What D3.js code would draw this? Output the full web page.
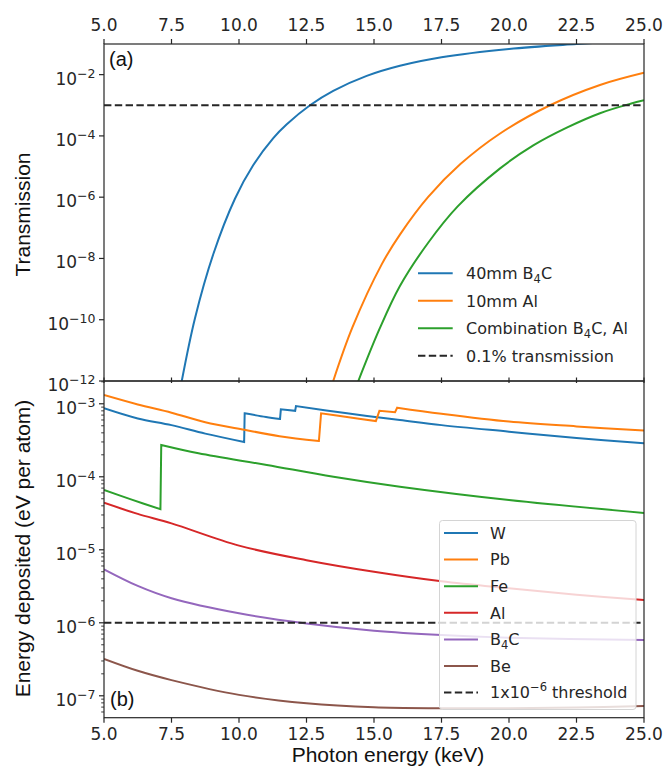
<!DOCTYPE html>
<html>
<head>
<meta charset="utf-8">
<script src="https://cdn.jsdelivr.net/npm/d3@7"></script>
<style>
    body { margin: 0; background: #fff; }
    .tick-text { font-family: "DejaVu Sans", sans-serif; font-size: 17px; fill: #262626; }
    .legend-text { font-family: "DejaVu Sans", sans-serif; font-size: 16px; fill: #262626; }
    .axis-label { font-family: "Liberation Sans", Arial, sans-serif; font-size: 21px; fill: #111; }
    .panel-label { font-family: "Liberation Sans", Arial, sans-serif; font-size: 20px; fill: #111; }
    .spine, .tick { stroke: #262626; stroke-width: 1.2; fill: none; }
    .curve { fill: none; stroke-width: 2; }
    .threshold { fill: none; stroke: #262626; stroke-width: 2; stroke-dasharray: 7.4, 3.4; }
</style>
</head>
<body>
<div id="plot"></div>
<script>
// tick values
var energyTicks = [5, 7.5, 10, 12.5, 15, 17.5, 20, 22.5, 25];
var transExponents = [-12, -10, -8, -6, -4, -2];
var depositExponents = [-7, -6, -5, -4, -3];

// (a) transmission vs photon energy (keV)
var transB4C = [[7.80, 4.0e-13], [7.88, 1.0e-12], [8.37, 1.12e-10], [9.05, 1.4e-8], [9.85, 8.9e-7],
    [10.53, 1.12e-5], [11.27, 8.5e-5], [11.77, 2.4e-4], [12.63, 1.0e-3], [13.49, 2.95e-3],
    [14.73, 9.1e-3], [15.96, 1.95e-2], [17.5, 3.7e-2], [20.0, 6.9e-2], [22.5, 1.0e-1], [25.0, 1.35e-1]];
var transAl = [[13.40, 5.7e-13], [13.49, 1.0e-12], [14.20, 5.6e-11], [15.28, 6.3e-9], [15.96, 6.0e-8],
    [17.0, 1.0e-6], [18.2, 1.2e-5], [19.67, 1.2e-4], [21.52, 1.0e-3], [23.37, 4.6e-3], [25.0, 1.15e-2]];
var transCombo = [[14.33, 5.0e-13], [14.42, 1.0e-12], [15.2, 4.9e-11], [15.96, 1.26e-9], [17.0, 3.2e-8],
    [18.1, 5.0e-7], [19.67, 8.7e-6], [20.9, 4.9e-5], [22.14, 1.86e-4], [23.37, 5.5e-4], [24.5, 1.12e-3], [25.0, 1.45e-3]];
var transThreshold = 1e-3;

// (b) energy deposited (eV per atom) vs photon energy (keV)
var depW = [[5, 8.7e-4], [6.25, 6.3e-4], [7.5, 5.1e-4], [8.75, 3.9e-4], [10.19, 3.0e-4],
    [10.21, 7.4e-4], [11.0, 6.6e-4], [11.52, 6.2e-4], [11.55, 8.4e-4], [12.08, 8.0e-4],
    [12.11, 9.3e-4], [14.0, 7.4e-4], [15.96, 6.0e-4], [17.5, 5.1e-4], [20, 4.15e-4], [22.5, 3.4e-4], [25, 2.88e-4]];
var depPb = [[5, 1.32e-3], [6.25, 9.8e-4], [7.5, 7.55e-4], [8.75, 5.6e-4], [10.2, 4.4e-4],
    [11.5, 3.6e-4], [12.96, 3.1e-4], [13.04, 7.4e-4], [14.0, 6.6e-4], [15.07, 5.8e-4],
    [15.2, 8.0e-4], [15.78, 7.65e-4], [15.86, 8.85e-4], [17.5, 7.3e-4], [20, 5.7e-4], [22.5, 4.9e-4], [25, 4.3e-4]];
var depFe = [[5, 6.6e-5], [6, 4.9e-5], [7.09, 3.6e-5], [7.12, 2.73e-4], [8.5, 2.1e-4],
    [11.03, 1.45e-4], [13.5, 1.0e-4], [15.96, 7.3e-5], [20, 4.8e-5], [25, 3.2e-5]];
var depAl = [[5, 4.4e-5], [6.25, 3.1e-5], [7.5, 2.3e-5], [10, 1.14e-5], [12.5, 7.2e-6], [15, 5.0e-6],
    [17.5, 3.7e-6], [20, 2.97e-6], [22.5, 2.43e-6], [25, 2.05e-6]];
var depB4C = [[5, 5.4e-6], [6.25, 3.2e-6], [7.5, 2.17e-6], [10, 1.35e-6], [12.5, 9.8e-7], [15, 7.8e-7],
    [17.5, 6.8e-7], [20, 6.25e-7], [25, 5.8e-7]];
var depBe = [[5, 3.2e-7], [6.25, 2.2e-7], [7.5, 1.64e-7], [10, 1.03e-7], [12.5, 7.9e-8], [15, 6.95e-8],
    [17.5, 6.75e-8], [20, 6.75e-8], [22.5, 6.9e-8], [25, 7.25e-8]];
var depThreshold = 1e-6;

var transSeries = [
    { label: '40mm B_4C', color: '#1f77b4', values: transB4C },
    { label: '10mm Al', color: '#ff7f0e', values: transAl },
    { label: 'Combination B_4C, Al', color: '#2ca02c', values: transCombo }
];
var depSeries = [
    { label: 'W', color: '#1f77b4', values: depW },
    { label: 'Pb', color: '#ff7f0e', values: depPb },
    { label: 'Fe', color: '#2ca02c', values: depFe },
    { label: 'Al', color: '#d62728', values: depAl },
    { label: 'B_4C', color: '#9467bd', values: depB4C },
    { label: 'Be', color: '#8c564b', values: depBe }
];

var W = 667, H = 769;
var left = 104, right = 644;
var topA = 44, bottomA = 381, topB = 381, bottomB = 717.7;

var svg = d3.select('#plot').append('svg')
    .attr('width', W)
    .attr('height', H);

var x = d3.scaleLinear().domain([5, 25]).range([left, right]);
var yA = d3.scaleLog().domain([1e-12, 1e-1]).range([bottomA, topA]);
var yB = d3.scaleLog().domain([Math.pow(10, -7.30), Math.pow(10, -2.688)]).range([bottomB, topB]);

// text with _4 subscripts and ^{..} superscripts
function richText(sel, str, size, subSize, subDy, supDy) {
    var parts = str.split(/(_\d|\^\{[^}]*\})/).filter(function (p) { return p.length; });
    var shift = 0;
    parts.forEach(function (p) {
        var t = sel.append('tspan');
        if (p[0] === '_') {
            t.attr('dy', subDy - shift).style('font-size', subSize + 'px').text(p.slice(1));
            shift = subDy;
        } else if (p[0] === '^') {
            t.attr('dy', supDy - shift).style('font-size', subSize + 'px').text(p.slice(2, -1));
            shift = supDy;
        } else {
            t.attr('dy', -shift).style('font-size', size + 'px').text(p);
            shift = 0;
        }
    });
}

// curve through points, split at absorption edges so the jumps stay sharp
function edgePath(points, yScale) {
    var line = d3.line()
        .x(function (d) { return x(d[0]); })
        .y(function (d) { return yScale(d[1]); })
        .curve(d3.curveCatmullRom.alpha(0.5));
    var segs = [[points[0]]];
    for (var i = 1; i < points.length; i++) {
        if (points[i][0] - points[i - 1][0] < 0.2) segs.push([points[i]]);
        else segs[segs.length - 1].push(points[i]);
    }
    return segs.map(function (s, i) {
        var p = line(s).replace(/Z$/, '');
        return i ? 'L' + p.slice(1) : p;
    }).join('');
}

var defs = svg.append('defs');
defs.append('clipPath').attr('id', 'clipA').append('rect')
    .attr('x', left).attr('y', topA).attr('width', right - left).attr('height', bottomA - topA);
defs.append('clipPath').attr('id', 'clipB').append('rect')
    .attr('x', left).attr('y', topB).attr('width', right - left).attr('height', bottomB - topB);

// ---- panel (a)
var gA = svg.append('g').attr('clip-path', 'url(#clipA)');
gA.selectAll('path.curve')
    .data(transSeries)
    .enter()
    .append('path')
    .attr('class', 'curve')
    .attr('stroke', function (d) { return d.color; })
    .attr('d', function (d) { return edgePath(d.values, yA); });
gA.append('line')
    .attr('class', 'threshold')
    .attr('x1', left).attr('x2', right)
    .attr('y1', yA(transThreshold)).attr('y2', yA(transThreshold));

// ---- panel (b)
var gB = svg.append('g').attr('clip-path', 'url(#clipB)');
gB.selectAll('path.curve')
    .data(depSeries)
    .enter()
    .append('path')
    .attr('class', 'curve')
    .attr('stroke', function (d) { return d.color; })
    .attr('d', function (d) { return edgePath(d.values, yB); });
gB.append('line')
    .attr('class', 'threshold')
    .attr('x1', left).attr('x2', right)
    .attr('y1', yB(depThreshold)).attr('y2', yB(depThreshold));

// ---- axes
var axes = svg.append('g').attr('class', 'axes');

// x ticks: top of (a), shared boundary, bottom of (b)
energyTicks.forEach(function (v) {
    axes.append('line').attr('class', 'tick')
        .attr('x1', x(v)).attr('x2', x(v)).attr('y1', topA - 5).attr('y2', topA);
    axes.append('line').attr('class', 'tick')
        .attr('x1', x(v)).attr('x2', x(v)).attr('y1', bottomA - 3.5).attr('y2', bottomA + 2);
    axes.append('line').attr('class', 'tick')
        .attr('x1', x(v)).attr('x2', x(v)).attr('y1', bottomB).attr('y2', bottomB + 5);
    axes.append('text').attr('class', 'tick-text')
        .attr('x', x(v)).attr('y', 31).attr('text-anchor', 'middle')
        .text(d3.format('.1f')(v));
    axes.append('text').attr('class', 'tick-text')
        .attr('x', x(v)).attr('y', 740).attr('text-anchor', 'middle')
        .text(d3.format('.1f')(v));
});

function yTickLabel(yPos, e) {
    var t = axes.append('text').attr('class', 'tick-text')
        .attr('x', 95.5).attr('y', yPos + 10).attr('text-anchor', 'end');
    richText(t, '10^{\u2212' + (-e) + '}', 17, 12.5, 0, -7);
}

transExponents.forEach(function (e) {
    var yy = yA(Math.pow(10, e));
    axes.append('line').attr('class', 'tick')
        .attr('x1', left - 5).attr('x2', left).attr('y1', yy).attr('y2', yy);
    yTickLabel(yy, e);
});

var lo = Math.floor(Math.log10(yB.domain()[0])), hi = Math.ceil(Math.log10(yB.domain()[1]));
for (var k = lo; k <= hi; k++) {
    for (var m = 2; m <= 9; m++) {
        var val = m * Math.pow(10, k);
        if (val < yB.domain()[0] || val > yB.domain()[1]) continue;
        axes.append('line').attr('class', 'tick').style('stroke-width', 0.9)
            .attr('x1', left - 2.8).attr('x2', left).attr('y1', yB(val)).attr('y2', yB(val));
    }
}
depositExponents.forEach(function (e) {
    var yy = yB(Math.pow(10, e));
    axes.append('line').attr('class', 'tick')
        .attr('x1', left - 5).attr('x2', left).attr('y1', yy).attr('y2', yy);
    yTickLabel(yy, e);
});

// spines
axes.append('rect').attr('class', 'spine')
    .attr('x', left).attr('y', topA).attr('width', right - left).attr('height', bottomA - topA);
axes.append('rect').attr('class', 'spine')
    .attr('x', left).attr('y', topB).attr('width', right - left).attr('height', bottomB - topB);

// axis titles
svg.append('text').attr('class', 'axis-label')
    .attr('transform', 'translate(30,' + 214.5 + ') rotate(-90)')
    .attr('text-anchor', 'middle')
    .text('Transmission');
svg.append('text').attr('class', 'axis-label')
    .attr('transform', 'translate(30,' + 548.5 + ') rotate(-90)')
    .attr('text-anchor', 'middle')
    .text('Energy deposited (eV per atom)');
svg.append('text').attr('class', 'axis-label')
    .attr('x', 388).attr('y', 762).attr('text-anchor', 'middle')
    .text('Photon energy (keV)');

svg.append('text').attr('class', 'panel-label').attr('x', 109).attr('y', 66).text('(a)');
svg.append('text').attr('class', 'panel-label').attr('x', 110).attr('y', 706).text('(b)');

// ---- legends
function legend(items, rowY, step, hx1, hx2, tx) {
    var g = svg.append('g').attr('class', 'legend');
    items.forEach(function (d, i) {
        var yy = rowY + i * step;
        g.append('line')
            .attr('class', d.dashed ? 'threshold' : 'curve')
            .attr('stroke', d.color)
            .attr('x1', hx1).attr('x2', hx2).attr('y1', yy).attr('y2', yy);
        var t = g.append('text').attr('class', 'legend-text')
            .attr('x', tx).attr('y', yy + 5.8);
        richText(t, d.label, 16, 11.5, 3.5, -7);
    });
    return g;
}

legend(transSeries.concat([{ label: '0.1% transmission', dashed: true }]),
    273.3, 27.5, 418, 452.7, 466);

svg.append('rect')
    .attr('x', 439.5).attr('y', 520.5)
    .attr('width', 196.5).attr('height', 189)
    .attr('rx', 3)
    .attr('fill', '#fff').attr('fill-opacity', 0.8)
    .attr('stroke', '#d4d4d4').attr('stroke-width', 1);

legend(depSeries.concat([{ label: '1x10^{\u22126} threshold', dashed: true }]),
    533, 26.6, 444, 478, 490);
</script>
</body>
</html>
